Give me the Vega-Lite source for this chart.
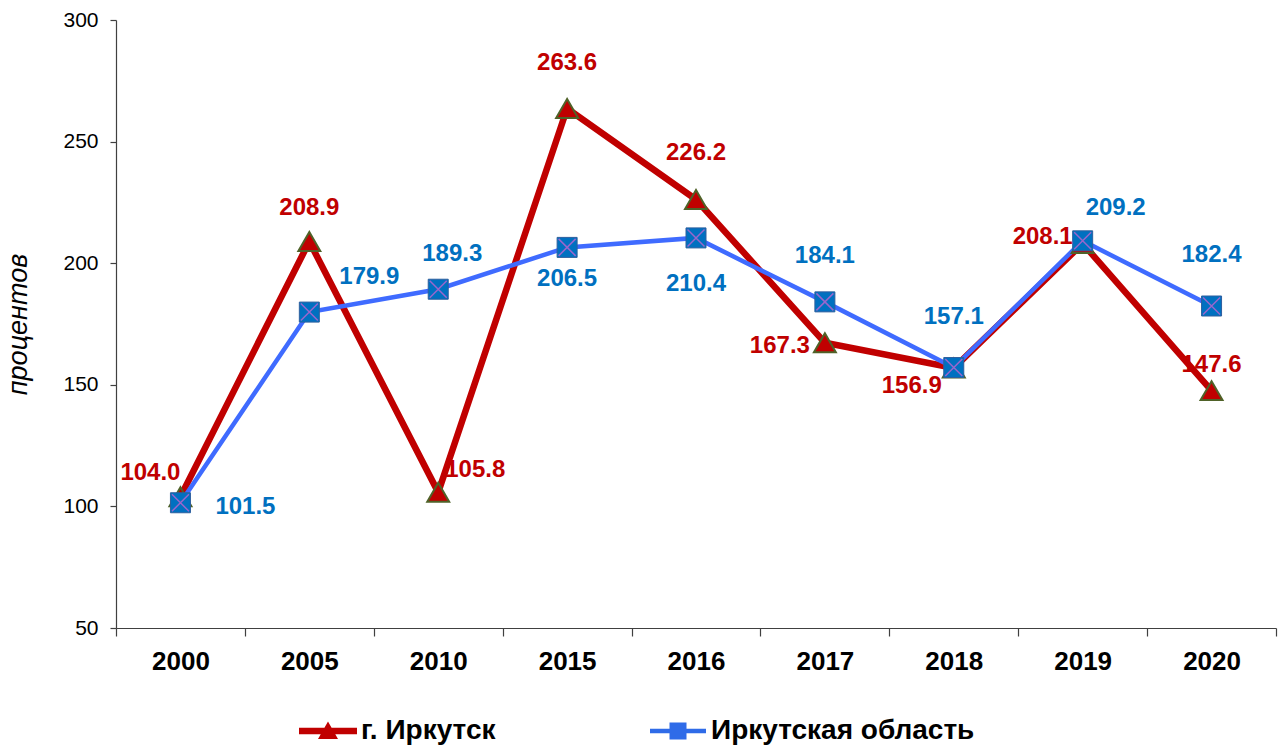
{
  "$schema": "https://vega.github.io/schema/vega-lite/v6.json",
  "width": 1160,
  "height": 608,
  "autosize": {"type": "none"},
  "padding": {"left": 116, "top": 20, "right": 4, "bottom": 121},
  "background": "white",
  "config": {
    "view": {"stroke": null},
    "font": "Liberation Sans",
    "text": {"font": "Liberation Sans"}
  },
  "data": {
    "values": [
      {"year": "2000", "series": "г. Иркутск", "value": 104.0},
      {"year": "2005", "series": "г. Иркутск", "value": 208.9},
      {"year": "2010", "series": "г. Иркутск", "value": 105.8},
      {"year": "2015", "series": "г. Иркутск", "value": 263.6},
      {"year": "2016", "series": "г. Иркутск", "value": 226.2},
      {"year": "2017", "series": "г. Иркутск", "value": 167.3},
      {"year": "2018", "series": "г. Иркутск", "value": 156.9},
      {"year": "2019", "series": "г. Иркутск", "value": 208.1},
      {"year": "2020", "series": "г. Иркутск", "value": 147.6},
      {"year": "2000", "series": "Иркутская область", "value": 101.5},
      {"year": "2005", "series": "Иркутская область", "value": 179.9},
      {"year": "2010", "series": "Иркутская область", "value": 189.3},
      {"year": "2015", "series": "Иркутская область", "value": 206.5},
      {"year": "2016", "series": "Иркутская область", "value": 210.4},
      {"year": "2017", "series": "Иркутская область", "value": 184.1},
      {"year": "2018", "series": "Иркутская область", "value": 157.1},
      {"year": "2019", "series": "Иркутская область", "value": 209.2},
      {"year": "2020", "series": "Иркутская область", "value": 182.4}
    ]
  },
  "encoding": {
    "x": {
      "field": "year",
      "type": "nominal",
      "sort": null,
      "scale": {"type": "band", "paddingInner": 0, "paddingOuter": 0},
      "axis": {
        "title": null,
        "labelAngle": 0,
        "tickBand": "extent",
        "tickSize": 8,
        "labelPadding": 12,
        "labelFontSize": 26,
        "labelFontWeight": "bold",
        "labelColor": "black",
        "domainColor": "#404040",
        "tickColor": "#404040",
        "domainWidth": 1.2,
        "tickWidth": 1.2
      }
    },
    "y": {
      "field": "value",
      "type": "quantitative",
      "scale": {"domain": [50, 300], "nice": false, "zero": false},
      "axis": {
        "values": [50, 100, 150, 200, 250, 300],
        "grid": false,
        "tickSize": 6,
        "labelPadding": 12,
        "labelFontSize": 21,
        "labelColor": "black",
        "domainColor": "#404040",
        "tickColor": "#404040",
        "domainWidth": 1.2,
        "tickWidth": 1.2,
        "title": "процентов",
        "titleFontSize": 27,
        "titleFontStyle": "italic",
        "titleFontWeight": "normal",
        "titleColor": "black",
        "titlePadding": 30
      }
    }
  },
  "layer": [
    {
      "transform": [{"filter": "datum.series == 'г. Иркутск'"}],
      "mark": {"type": "line", "color": "#C00000", "strokeWidth": 6.5}
    },
    {
      "transform": [{"filter": "datum.series == 'Иркутская область'"}],
      "mark": {"type": "line", "color": "#3F6BFF", "strokeWidth": 4.5}
    },
    {
      "transform": [{"filter": "datum.series == 'г. Иркутск'"}],
      "mark": {"type": "point", "shape": "triangle-up", "filled": true, "size": 480, "fill": "#C00000", "stroke": "#4F6228", "strokeWidth": 2, "opacity": 1}
    },
    {
      "transform": [{"filter": "datum.series == 'Иркутская область'"}],
      "mark": {"type": "point", "shape": "square", "filled": true, "size": 400, "fill": "#0070C0", "stroke": "#2E5F9E", "strokeWidth": 1, "opacity": 1}
    },
    {
      "transform": [{"filter": "datum.series == 'Иркутская область'"}],
      "mark": {"type": "point", "shape": "M-0.85,-0.85L0.85,0.85M0.85,-0.85L-0.85,0.85", "filled": false, "size": 400, "stroke": "#9966CC", "strokeWidth": 1.5, "opacity": 1}
    },
    {
      "transform": [{"filter": "false"}],
      "mark": {"type": "point", "filled": true, "opacity": 1},
      "encoding": {
        "color": {
          "field": "series",
          "type": "nominal",
          "scale": {"domain": ["г. Иркутск", "Иркутская область"], "range": ["#C00000", "#2F6BE8"]},
          "legend": {
            "title": null,
            "orient": "none",
            "legendX": 198,
            "legendY": 697,
            "direction": "horizontal",
            "symbolSize": 400,
            "symbolOpacity": 1,
            "symbolStrokeWidth": 0,
            "labelFontSize": 28,
            "labelFontWeight": "bold",
            "labelColor": "black",
            "labelOffset": 19,
            "labelLimit": 500,
            "columnPadding": 154,
            "padding": 0
          }
        },
        "shape": {
          "field": "series",
          "type": "nominal",
          "scale": {
            "domain": ["г. Иркутск", "Иркутская область"],
            "range": [
              "M-2.9,-0.33H2.9V0.33H-2.9Z M-1,0.8L0,-0.95L1,0.8Z",
              "M-2.8,-0.22H2.8V0.22H-2.8Z M-0.85,-0.85H0.85V0.85H-0.85Z"
            ]
          },
          "legend": {
            "title": null,
            "orient": "none",
            "legendX": 198,
            "legendY": 697,
            "direction": "horizontal",
            "symbolSize": 400,
            "symbolOpacity": 1,
            "symbolStrokeWidth": 0,
            "labelFontSize": 28,
            "labelFontWeight": "bold",
            "labelColor": "black",
            "labelOffset": 19,
            "labelLimit": 500,
            "columnPadding": 154,
            "padding": 0
          }
        }
      }
    },
    {
      "transform": [{"filter": "datum.series == 'г. Иркутск' && indexof(['2015','2016'], datum.year) >= 0"}],
      "mark": {"type": "text", "fontSize": 24, "fontWeight": "bold", "color": "#C00000", "baseline": "middle", "dy": -46},
      "encoding": {"text": {"field": "value", "type": "quantitative", "format": ".1f"}}
    },
    {
      "transform": [{"filter": "datum.series == 'г. Иркутск' && datum.year == '2005'"}],
      "mark": {"type": "text", "fontSize": 24, "fontWeight": "bold", "color": "#C00000", "baseline": "middle", "dy": -34},
      "encoding": {"text": {"field": "value", "type": "quantitative", "format": ".1f"}}
    },
    {
      "transform": [{"filter": "datum.series == 'г. Иркутск' && datum.year == '2020'"}],
      "mark": {"type": "text", "fontSize": 24, "fontWeight": "bold", "color": "#C00000", "baseline": "middle", "dy": -26},
      "encoding": {"text": {"field": "value", "type": "quantitative", "format": ".1f"}}
    },
    {
      "transform": [{"filter": "datum.series == 'г. Иркутск' && datum.year == '2000'"}],
      "mark": {"type": "text", "fontSize": 24, "fontWeight": "bold", "color": "#C00000", "baseline": "middle", "dx": -30, "dy": -24},
      "encoding": {"text": {"field": "value", "type": "quantitative", "format": ".1f"}}
    },
    {
      "transform": [{"filter": "datum.series == 'г. Иркутск' && datum.year == '2010'"}],
      "mark": {"type": "text", "fontSize": 24, "fontWeight": "bold", "color": "#C00000", "baseline": "middle", "dx": 37, "dy": -22},
      "encoding": {"text": {"field": "value", "type": "quantitative", "format": ".1f"}}
    },
    {
      "transform": [{"filter": "datum.series == 'г. Иркутск' && datum.year == '2017'"}],
      "mark": {"type": "text", "fontSize": 24, "fontWeight": "bold", "color": "#C00000", "baseline": "middle", "dx": -45, "dy": 3},
      "encoding": {"text": {"field": "value", "type": "quantitative", "format": ".1f"}}
    },
    {
      "transform": [{"filter": "datum.series == 'г. Иркутск' && datum.year == '2018'"}],
      "mark": {"type": "text", "fontSize": 24, "fontWeight": "bold", "color": "#C00000", "baseline": "middle", "dx": -42, "dy": 18},
      "encoding": {"text": {"field": "value", "type": "quantitative", "format": ".1f"}}
    },
    {
      "transform": [{"filter": "datum.series == 'г. Иркутск' && datum.year == '2019'"}],
      "mark": {"type": "text", "fontSize": 24, "fontWeight": "bold", "color": "#C00000", "baseline": "middle", "dx": -40, "dy": -7},
      "encoding": {"text": {"field": "value", "type": "quantitative", "format": ".1f"}}
    },
    {
      "transform": [{"filter": "datum.series == 'Иркутская область' && datum.year == '2000'"}],
      "mark": {"type": "text", "fontSize": 24, "fontWeight": "bold", "color": "#0070C0", "baseline": "middle", "dx": 65, "dy": 4},
      "encoding": {"text": {"field": "value", "type": "quantitative", "format": ".1f"}}
    },
    {
      "transform": [{"filter": "datum.series == 'Иркутская область' && datum.year == '2005'"}],
      "mark": {"type": "text", "fontSize": 24, "fontWeight": "bold", "color": "#0070C0", "baseline": "middle", "dx": 60, "dy": -35},
      "encoding": {"text": {"field": "value", "type": "quantitative", "format": ".1f"}}
    },
    {
      "transform": [{"filter": "datum.series == 'Иркутская область' && datum.year == '2010'"}],
      "mark": {"type": "text", "fontSize": 24, "fontWeight": "bold", "color": "#0070C0", "baseline": "middle", "dx": 14, "dy": -35},
      "encoding": {"text": {"field": "value", "type": "quantitative", "format": ".1f"}}
    },
    {
      "transform": [{"filter": "datum.series == 'Иркутская область' && datum.year == '2015'"}],
      "mark": {"type": "text", "fontSize": 24, "fontWeight": "bold", "color": "#0070C0", "baseline": "middle", "dy": 32},
      "encoding": {"text": {"field": "value", "type": "quantitative", "format": ".1f"}}
    },
    {
      "transform": [{"filter": "datum.series == 'Иркутская область' && datum.year == '2016'"}],
      "mark": {"type": "text", "fontSize": 24, "fontWeight": "bold", "color": "#0070C0", "baseline": "middle", "dy": 46},
      "encoding": {"text": {"field": "value", "type": "quantitative", "format": ".1f"}}
    },
    {
      "transform": [{"filter": "datum.series == 'Иркутская область' && datum.year == '2017'"}],
      "mark": {"type": "text", "fontSize": 24, "fontWeight": "bold", "color": "#0070C0", "baseline": "middle", "dy": -46},
      "encoding": {"text": {"field": "value", "type": "quantitative", "format": ".1f"}}
    },
    {
      "transform": [{"filter": "datum.series == 'Иркутская область' && indexof(['2018','2020'], datum.year) >= 0"}],
      "mark": {"type": "text", "fontSize": 24, "fontWeight": "bold", "color": "#0070C0", "baseline": "middle", "dy": -51},
      "encoding": {"text": {"field": "value", "type": "quantitative", "format": ".1f"}}
    },
    {
      "transform": [{"filter": "datum.series == 'Иркутская область' && datum.year == '2019'"}],
      "mark": {"type": "text", "fontSize": 24, "fontWeight": "bold", "color": "#0070C0", "baseline": "middle", "dx": 33, "dy": -33},
      "encoding": {"text": {"field": "value", "type": "quantitative", "format": ".1f"}}
    }
  ]
}
